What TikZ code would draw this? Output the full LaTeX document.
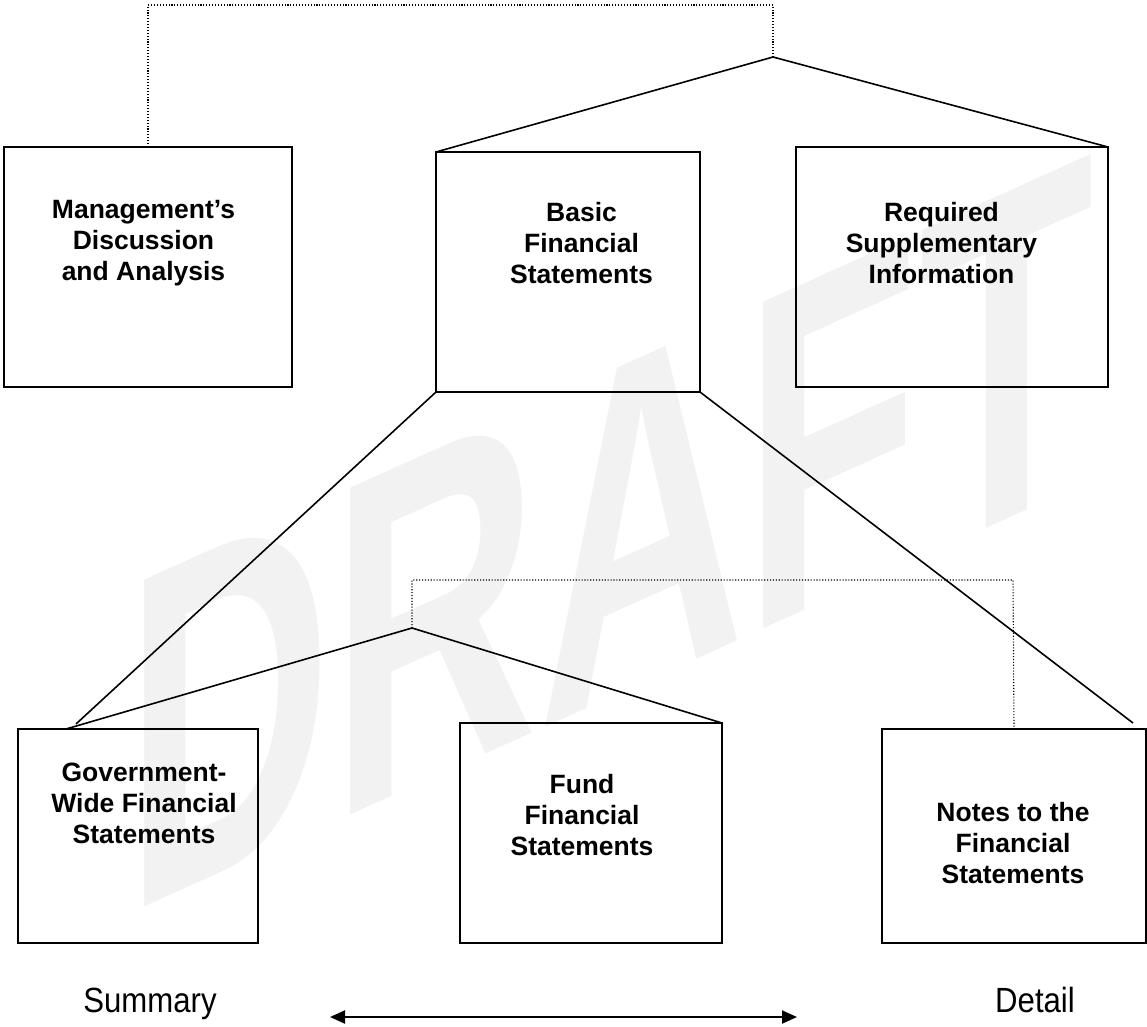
\documentclass[tikz,border=0pt]{standalone}
\usepackage{fontspec}
\setmainfont{Liberation Sans}
\usetikzlibrary{arrows.meta}
\definecolor{wmgray}{RGB}{242,242,242}
\begin{document}
\begin{tikzpicture}[x=1pt,y=-1pt,
  box/.style={draw, line width=2pt, inner sep=0pt, outer sep=0pt},
  conn/.style={line width=1.6pt, line join=miter},
  dotline/.style={line width=1.1pt, dash pattern=on 1.1pt off 1.8pt},
  boxtext/.style={anchor=north, align=center, inner sep=0pt,
    font=\fontsize{26.5}{31}\selectfont\bfseries},
  sidetext/.style={anchor=base, inner sep=0pt,
    font=\fontsize{35}{40}\selectfont},
  wm/.style={inner sep=0pt, text=wmgray,
    font=\fontsize{475}{475}\selectfont\bfseries},
  arr/.style={line width=2pt, {Triangle[length=15pt,width=13pt]}-{Triangle[length=15pt,width=13pt]}}
]
\useasboundingbox (0,0) rectangle (1147,1026);

% watermark
\begin{scope}[shift={(125,916)}]
\node[wm, cm={0.602,0.271,0,1,(0,0)}, transform shape, anchor=base west] (wmark) at (0,0) {DRAFT};
\end{scope}

% boxes
\node[box, minimum width=288pt, minimum height=240pt] (mda) at (148,267) {};
\node[box, minimum width=264pt, minimum height=240pt] (bfs) at (568,272) {};
\node[box, minimum width=312pt, minimum height=240pt] (rsi) at (952,267) {};
\node[box, minimum width=240pt, minimum height=214pt] (gov) at (138,836) {};
\node[box, minimum width=262pt, minimum height=220pt] (fund) at (591,833) {};
\node[box, minimum width=264pt, minimum height=214pt] (notes) at (1014,836) {};

% box texts
\node[boxtext] (tmda) at (143.5,200) {Management’s\\Discussion\\and Analysis};
\node[boxtext] (tbfs) at (581.5,202) {Basic\\Financial\\Statements};
\node[boxtext] (trsi) at (941.5,202) {Required\\Supplementary\\Information};
\node[boxtext] (tgov) at (144,763) {Government-\\Wide Financial\\Statements};
\node[boxtext] (tfund) at (582,774) {Fund\\Financial\\Statements};
\node[boxtext] (tnotes) at (1013,802) {Notes to the\\Financial\\Statements};

% connector points
\coordinate (ap1) at (773,57);
\coordinate (ap1top) at (773,5);
\coordinate (mdatop) at (148,5);
\coordinate (g1) at (76,724);
\coordinate (n1) at (1133,723);
\coordinate (ap2) at (412,628);
\coordinate (g2) at (66,729);
\coordinate (ap2top) at (412,580);
\coordinate (notestop) at (1013,580);

% dotted connectors
\draw[dotline] (ap1) -- (ap1top) -- (mdatop) -- (mda.north);
\draw[dotline] (ap2) -- (ap2top) -- (notestop) -- (notes.north);

% solid connectors
\draw[conn] (bfs.north west) -- (ap1) -- (rsi.north east);
\draw[conn] (bfs.south west) -- (g1);
\draw[conn] (bfs.south east) -- (n1);
\draw[conn] (g2) -- (ap2) -- (fund.north east);

% summary / detail
\node[sidetext] (summary) at (150,1012) {\scalebox{0.89}[1]{Summary}};
\node[sidetext] (detail) at (1035,1012) {\scalebox{0.89}[1]{Detail}};
\coordinate (al) at (330,1017);
\coordinate (ar) at (797,1017);
\draw[arr] (al) -- (ar);
\end{tikzpicture}
\end{document}
